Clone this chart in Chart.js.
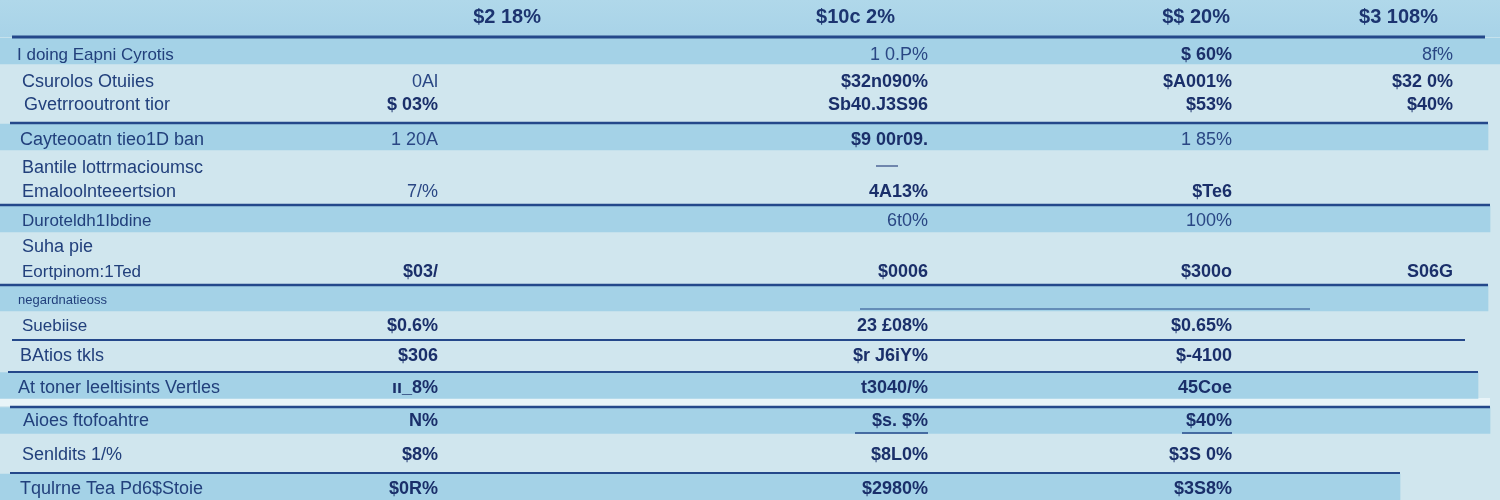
<!DOCTYPE html>
<html>
<head>
<meta charset="utf-8">
<script src="https://cdn.jsdelivr.net/npm/chart.js@4"></script>
<style>
  html, body { margin: 0; padding: 0; background: #d0e6ee; }
  #wrap { width: 1500px; height: 500px; }
</style>
</head>
<body>
<div id="wrap"><canvas id="tabell"></canvas></div>
<script>
// Tabellinnhald (lese av biletet, teksten er uklar)
const headers = ['$2 18%', '$10c 2%', '$$ 20%', '$3 108%'];

const categories = [
  'I doing Eapni Cyrotis',
  'Csurolos Otuiies',
  'Gvetrrooutront tior',
  'Cayteooatn tieo1D ban',
  'Bantile lottrmacioumsc',
  'Emaloolnteeertsion',
  'Duroteldh1Ibdine',
  'Suha pie',
  'Eortpinom:1Ted',
  'negardnatieoss',
  'Suebiise',
  'BAtios tkls',
  'At toner leeltisints Vertles',
  'Aioes ftofoahtre',
  'Senldits 1/%',
  'Tqulrne Tea Pd6$Stoie'
];

const col1 = ['', '0Al', '$ 03%', '1 20A', '', '7/%', '', '', '$03/', '', '$0.6%', '$306', 'ıı_8%', 'N%', '$8%', '$0R%'];
const col2 = ['1 0.P%', '$32n090%', 'Sb40.J3S96', '$9 00r09.', '', '4A13%', '6t0%', '', '$0006', '', '23 £08%', '$r J6iY%', 't3040/%', '$s. $%', '$8L0%', '$2980%'];
const col3 = ['$ 60%', '$A001%', '$53%', '1 85%', '', '$Te6', '100%', '', '$300o', '', '$0.65%', '$-4100', '45Coe', '$40%', '$3S 0%', '$3S8%'];
const col4 = ['8f%', '$32 0%', '$40%', '', '', '', '', '', 'S06G', '', '', '', '', '', '', ''];

// Oppsett (plassering i pikslar)
const rowY = [55, 82, 105, 140, 168, 192, 221, 247, 272, 300, 326, 356, 388, 421, 455, 489];
const labelX = [17, 22, 24, 20, 22, 22, 22, 22, 22, 18, 22, 20, 18, 23, 22, 20];
const labelSize = [17, 18, 18, 18, 18, 18, 17, 18, 17, 13, 17, 18, 18, 18, 18, 18];
const colRight = [438, 928, 1232, 1453];
const headRight = [541, 895, 1230, 1438];
const lightCols = ['0Al', '1 0.P%', '8f%', '1 20A', '1 85%', '6t0%', '100%', '7/%'];

const bands = [
  { y: [37, 65], x: [0, 1500] },
  { y: [124, 150], x: [0, 1488] },
  { y: [206, 232], x: [0, 1490] },
  { y: [286, 310], x: [0, 1488] },
  { y: [373, 398], x: [0, 1478] },
  { y: [408, 433], x: [0, 1490] },
  { y: [474, 500], x: [0, 1400] }
];
const rules = [
  { y: 37, x: [12, 1485], w: 3 },
  { y: 123, x: [10, 1488], w: 2.5 },
  { y: 166, x: [876, 898], w: 2, c: '#6f86ad' },
  { y: 205, x: [0, 1490], w: 2.5 },
  { y: 285, x: [0, 1488], w: 2.5 },
  { y: 309, x: [860, 1310], w: 1.2 },
  { y: 340, x: [12, 1465], w: 2 },
  { y: 372, x: [8, 1478], w: 2 },
  { y: 407, x: [10, 1490], w: 2.5 },
  { y: 433, x: [855, 928], w: 1.5 },
  { y: 433, x: [1182, 1232], w: 1.5 },
  { y: 473, x: [10, 1400], w: 2 }
];

const fontFam = '"Liberation Sans Narrow", "Liberation Sans", Arial, sans-serif';

const bakgrunn = {
  id: 'bakgrunn',
  beforeDraw(chart) {
    const c = chart.ctx, x = chart.scales.x, y = chart.scales.y;
    c.save();
    c.fillStyle = '#d0e6ee';
    c.fillRect(0, 0, chart.width, chart.height);
    const g = c.createLinearGradient(0, y.getPixelForValue(0), 0, y.getPixelForValue(37));
    g.addColorStop(0, '#b0d8ea');
    g.addColorStop(1, '#a8d3e8');
    c.fillStyle = g;
    c.fillRect(x.getPixelForValue(0), y.getPixelForValue(0), x.getPixelForValue(1500), y.getPixelForValue(37));
    // kvit stripe mellom to band
    c.fillStyle = '#e8f4f8';
    c.fillRect(x.getPixelForValue(0), y.getPixelForValue(398), x.getPixelForValue(1490), y.getPixelForValue(406) - y.getPixelForValue(398));
    c.restore();
  }
};

const tabell = {
  id: 'tabell',
  afterDatasetsDraw(chart) {
    const c = chart.ctx, x = chart.scales.x, y = chart.scales.y;
    c.save();
    rules.forEach(r => {
      c.strokeStyle = r.c || '#24488a';
      c.lineWidth = r.w;
      c.beginPath();
      c.moveTo(x.getPixelForValue(r.x[0]), y.getPixelForValue(r.y));
      c.lineTo(x.getPixelForValue(r.x[1]), y.getPixelForValue(r.y));
      c.stroke();
    });

    c.textBaseline = 'middle';
    c.fillStyle = '#1c3470';
    c.textAlign = 'right';
    c.font = 'bold 20px ' + fontFam;
    headers.forEach((h, i) => c.fillText(h, x.getPixelForValue(headRight[i]), y.getPixelForValue(17)));

    c.textAlign = 'left';
    categories.forEach((lab, i) => {
      c.fillStyle = '#22407c';
      c.font = labelSize[i] + 'px ' + fontFam;
      c.fillText(lab, x.getPixelForValue(labelX[i]), y.getPixelForValue(rowY[i]));
    });

    c.textAlign = 'right';
    [col1, col2, col3, col4].forEach((col, k) => {
      col.forEach((v, i) => {
        if (!v) return;
        const light = lightCols.includes(v);
        c.fillStyle = light ? '#2a4784' : '#1a2f6a';
        c.font = (light ? '' : 'bold ') + '18px ' + fontFam;
        c.fillText(v, x.getPixelForValue(colRight[k]), y.getPixelForValue(rowY[i]));
      });
    });
    c.restore();
  }
};

const ctx = document.getElementById('tabell');

new Chart(ctx, {
  type: 'bar',
  data: {
    datasets: [{
      label: 'band',
      data: bands.map(b => ({ y: (b.y[0] + b.y[1]) / 2, x: b.x })),
      backgroundColor: '#a4d2e7',
      borderWidth: 0,
      barThickness: 26,
      grouped: false
    }]
  },
  options: {
    indexAxis: 'y',
    responsive: true,
    maintainAspectRatio: false,
    animation: false,
    events: [],
    layout: { padding: 0 },
    scales: {
      x: { type: 'linear', min: 0, max: 1500, offset: false, display: false },
      y: { type: 'linear', min: 0, max: 500, reverse: true, offset: false, display: false }
    },
    plugins: {
      legend: { display: false },
      tooltip: { enabled: false }
    }
  },
  plugins: [bakgrunn, tabell]
});
</script>
</body>
</html>
